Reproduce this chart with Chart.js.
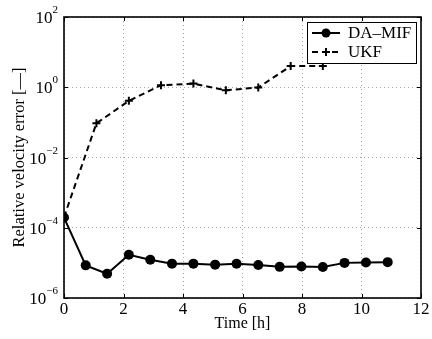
<!DOCTYPE html>
<html>
<head>
<meta charset="utf-8">
<script src="https://cdn.jsdelivr.net/npm/chart.js@4/dist/chart.umd.min.js"></script>
<style>
html,body{margin:0;padding:0;background:#fff;}
#wrap{width:432px;height:339px;position:relative;}
</style>
</head>
<body>
<div id="wrap"><canvas id="c" width="432" height="339"></canvas></div>
<script>
const seriesNames = ['DA\u2013MIF', 'UKF'];
const daTimes = [0, 0.73, 1.45, 2.18, 2.9, 3.63, 4.35, 5.08, 5.8, 6.53, 7.25, 7.98, 8.7, 9.43, 10.15, 10.88];
const daValues = [1.95e-4, 8.5e-6, 4.9e-6, 1.7e-5, 1.23e-5, 9.5e-6, 9.5e-6, 8.9e-6, 9.4e-6, 8.7e-6, 7.7e-6, 7.9e-6, 7.6e-6, 1.0e-5, 1.03e-5, 1.05e-5];
const ukfTimes = [0, 1.09, 2.18, 3.26, 4.35, 5.44, 6.53, 7.62, 8.7];
const ukfValues = [2.0e-4, 0.094, 0.41, 1.14, 1.27, 0.82, 0.98, 4.0, 4.0];
const xTicks = [0, 2, 4, 6, 8, 10, 12];
const yTickExps = [-6, -4, -2, 0, 2];
const xTitle = 'Time [h]';
const yTitle = 'Relative velocity error [\u2014]';

const FONT = "'Liberation Serif', 'Times New Roman', serif";

const framePlugin = {
  id: 'frame',
  afterDraw(chart) {
    const ctx = chart.ctx, a = chart.chartArea;
    const xs = chart.scales.x, ys = chart.scales.y;
    ctx.save();
    // inward ticks
    ctx.strokeStyle = '#000'; ctx.lineWidth = 1;
    ctx.beginPath();
    xTicks.forEach(t => {
      const px = Math.round(xs.getPixelForValue(t)) + 0.5;
      ctx.moveTo(px, a.bottom); ctx.lineTo(px, a.bottom - 4);
      ctx.moveTo(px, a.top); ctx.lineTo(px, a.top + 4);
    });
    yTickExps.forEach(e => {
      const py = Math.round(ys.getPixelForValue(Math.pow(10, e))) + 0.5;
      ctx.moveTo(a.left, py); ctx.lineTo(a.left + 4, py);
      ctx.moveTo(a.right, py); ctx.lineTo(a.right - 4, py);
    });
    ctx.stroke();
    // frame
    ctx.lineWidth = 1.6;
    ctx.strokeRect(a.left, a.top, a.right - a.left, a.bottom - a.top);
    // y tick labels 10^e
    ctx.fillStyle = '#000';
    ctx.textBaseline = 'alphabetic';
    yTickExps.forEach(e => {
      const py = ys.getPixelForValue(Math.pow(10, e));
      const exp = (e < 0 ? '\u2212' : '') + Math.abs(e);
      ctx.font = '11px ' + FONT;
      const ew = ctx.measureText(exp).width;
      const xr = a.left - 6;
      ctx.textAlign = 'left';
      ctx.fillText(exp, xr - ew, py - 4);
      ctx.font = '17px ' + FONT;
      ctx.textAlign = 'right';
      ctx.fillText('10', xr - ew, py + 6);
    });
    // legend
    const lx = 307, ly = 22, lw = 109, lh = 41;
    ctx.fillStyle = '#fff';
    ctx.fillRect(lx, ly, lw, lh);
    ctx.lineWidth = 1;
    ctx.strokeStyle = '#000';
    ctx.strokeRect(lx + 0.5, ly + 0.5, lw, lh);
    const rows = [ly + 11, ly + 30];
    // DA-MIF sample
    ctx.lineWidth = 2; ctx.setLineDash([]);
    ctx.beginPath(); ctx.moveTo(312, rows[0]); ctx.lineTo(340, rows[0]); ctx.stroke();
    ctx.fillStyle = '#000';
    ctx.beginPath(); ctx.arc(326, rows[0], 4.5, 0, Math.PI * 2); ctx.fill();
    // UKF sample
    ctx.setLineDash([6, 4]);
    ctx.beginPath(); ctx.moveTo(312, rows[1]); ctx.lineTo(342, rows[1]); ctx.stroke();
    ctx.setLineDash([]);
    ctx.beginPath();
    ctx.moveTo(322, rows[1]); ctx.lineTo(330, rows[1]);
    ctx.moveTo(326, rows[1] - 4); ctx.lineTo(326, rows[1] + 4);
    ctx.stroke();
    ctx.font = '17px ' + FONT;
    ctx.textAlign = 'left'; ctx.textBaseline = 'middle';
    ctx.fillText(seriesNames[0], 348, rows[0] + 1);
    ctx.fillText(seriesNames[1], 348, rows[1] + 1);
    ctx.restore();
  }
};

new Chart(document.getElementById('c'), {
  type: 'line',
  data: {
    datasets: [
      {
        label: seriesNames[1],
        data: ukfTimes.map((t, i) => ({x: t, y: ukfValues[i]})),
        borderColor: '#000', backgroundColor: '#000',
        borderWidth: 2, borderDash: [6, 4],
        pointStyle: 'cross', pointRadius: 4, pointBorderWidth: 2,
        tension: 0, fill: false
      },
      {
        label: seriesNames[0],
        data: daTimes.map((t, i) => ({x: t, y: daValues[i]})),
        borderColor: '#000', backgroundColor: '#000',
        borderWidth: 2,
        pointStyle: 'circle', pointRadius: 5, pointBorderWidth: 0,
        tension: 0, fill: false
      }
    ]
  },
  options: {
    responsive: false, animation: false,
    layout: {padding: {left: 0, right: 11, top: 17, bottom: 6}},
    plugins: {legend: {display: false}, tooltip: {enabled: false}},
    scales: {
      x: {
        type: 'linear', min: 0, max: 12,
        afterBuildTicks(s) { s.ticks = xTicks.map(v => ({value: v})); },
        afterFit(s) { s.height = 35; },
        ticks: {color: '#000', font: {family: FONT, size: 17}, padding: 1, maxRotation: 0},
        grid: {color: '#aaa', lineWidth: 1, tickLength: 0, drawTicks: false},
        border: {display: false, dash: [1, 3]},
        title: {display: true, text: xTitle, color: '#000', font: {family: FONT, size: 16}, padding: {top: 0, bottom: 0}}
      },
      y: {
        type: 'logarithmic', min: 1e-6, max: 1e2,
        afterBuildTicks(s) { s.ticks = yTickExps.map(e => ({value: Math.pow(10, e)})); },
        afterFit(s) { s.width = 64; },
        ticks: {display: false},
        grid: {color: '#aaa', lineWidth: 1, drawTicks: false},
        border: {display: false, dash: [1, 3]},
        title: {display: true, text: yTitle, color: '#000', font: {family: FONT, size: 16.5}, padding: {top: 10, bottom: 0}}
      }
    }
  },
  plugins: [framePlugin]
});
</script>
</body>
</html>
